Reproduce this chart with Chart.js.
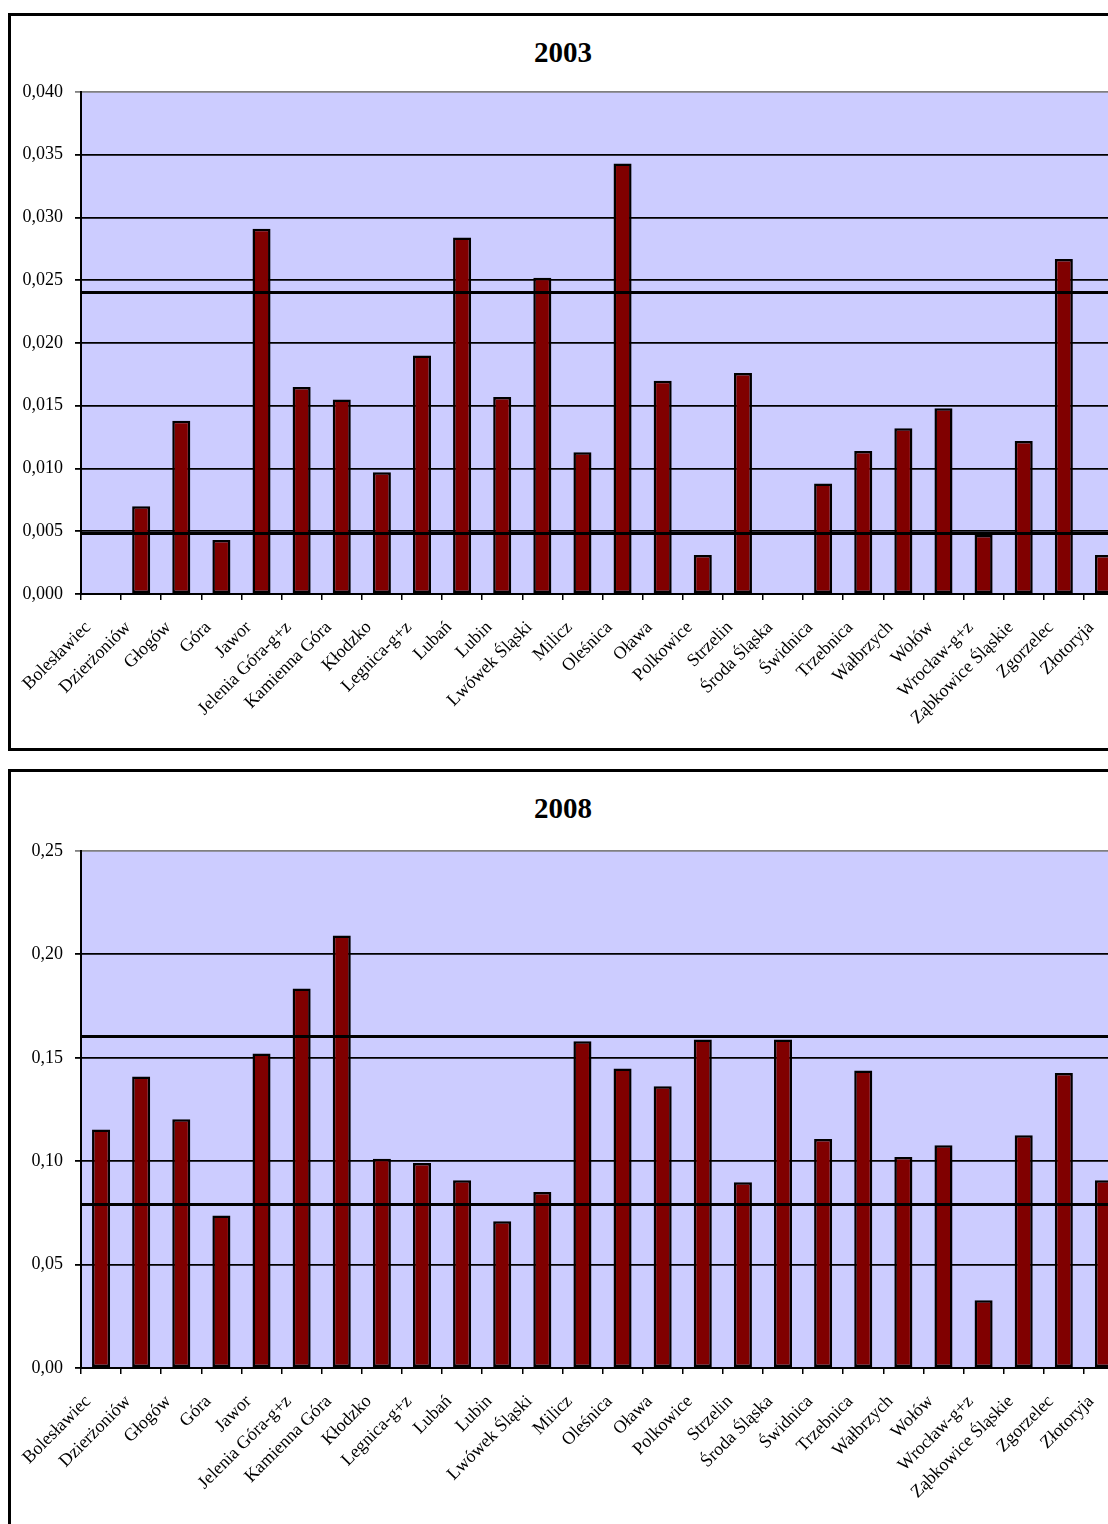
<!DOCTYPE html>
<html lang="pl">
<head>
<meta charset="utf-8">
<script src="https://cdn.jsdelivr.net/npm/chart.js@4.4.1/dist/chart.umd.min.js"></script>
<style>
  body { margin: 0; width: 1108px; height: 1524px; overflow: hidden; position: relative; background: #fff; font-family: "Liberation Serif", serif; }
  .box { position: absolute; left: 8px; width: 1160px; border: 3px solid #000; box-sizing: border-box; }
  .ttl { position: absolute; left: 463px; width: 200px; text-align: center; font-weight: bold; font-size: 29px; line-height: 30px; }
  canvas { position: absolute; }
</style>
</head>
<body>
<div class="box" style="top:13px;height:738px"></div>
<div class="ttl" style="top:37px">2003</div>
<canvas id="chart2003" width="1140" height="730" style="left:12px;top:16px"></canvas>

<div class="box" style="top:769px;height:800px"></div>
<div class="ttl" style="top:793px">2008</div>
<canvas id="chart2008" width="1140" height="760" style="left:12px;top:772px"></canvas>

<script>
// districts (powiaty) of Lower Silesia
const districts = [
    'Bolesławiec', 'Dzierżoniów', 'Głogów', 'Góra', 'Jawor', 'Jelenia Góra-g+z',
    'Kamienna Góra', 'Kłodzko', 'Legnica-g+z', 'Lubań', 'Lubin', 'Lwówek Śląski',
    'Milicz', 'Oleśnica', 'Oława', 'Polkowice', 'Strzelin', 'Środa Śląska',
    'Świdnica', 'Trzebnica', 'Wałbrzych', 'Wołów', 'Wrocław-g+z',
    'Ząbkowice Śląskie', 'Zgorzelec', 'Złotoryja'
];

// values
const values2003 = [
    null, 0.0070, 0.0138, 0.0043, 0.0291, 0.0165, 0.0155, 0.0097, 0.0190, 0.0284,
    0.0157, 0.0252, 0.0113, 0.0343, 0.0170, 0.0031, 0.0176, null, 0.0088, 0.0114,
    0.0132, 0.0148, 0.0047, 0.0122, 0.0267, 0.0031
];
const values2008 = [
    0.1153, 0.1410, 0.1203, 0.0737, 0.1521, 0.1835, 0.2091, 0.1012, 0.0991, 0.0908,
    0.0710, 0.0851, 0.1580, 0.1448, 0.1363, 0.1588, 0.0898, 0.1588, 0.1107, 0.1438,
    0.1020, 0.1077, 0.0328, 0.1125, 0.1426, 0.0908
];

// the two thick horizontal lines in each chart
const refLines2003 = [0.0241, 0.0049];
const refLines2008 = [0.1603, 0.0791];

// y axis ticks
const yTicks2003 = { max: 0.040, step: 0.005, decimals: 3 };
const yTicks2008 = { max: 0.25, step: 0.05, decimals: 2 };

// plot background + thick reference lines
const plotDecor = {
    id: 'plotDecor',
    beforeDraw(chart) {
        const { ctx, chartArea: a } = chart;
        ctx.save();
        ctx.fillStyle = '#CCCCFF';
        ctx.fillRect(a.left, a.top, a.right - a.left, a.bottom - a.top);
        ctx.restore();
    },
    afterDatasetsDraw(chart, args, opts) {
        const { ctx, chartArea: a, scales } = chart;
        ctx.save();
        ctx.strokeStyle = '#000';
        ctx.lineWidth = 3;
        (opts.lines || []).forEach(v => {
            const y = Math.round(scales.y.getPixelForValue(v)) + 0.5;
            ctx.beginPath();
            ctx.moveTo(a.left, y);
            ctx.lineTo(a.right, y);
            ctx.stroke();
        });
        ctx.restore();
    }
};

const serif = '"Liberation Serif", "Times New Roman", serif';

function makeChart(id, values, lines, yt, padTop, xAxisHeight) {
    return new Chart(document.getElementById(id), {
        type: 'bar',
        data: {
            labels: districts,
            datasets: [{
                data: values,
                backgroundColor: '#800000',
                borderColor: '#000',
                borderWidth: 2.5,
                borderSkipped: false,
                categoryPercentage: 0.9,
                barPercentage: 0.5
            }]
        },
        options: {
            responsive: false,
            animation: false,
            layout: { padding: { top: padTop, right: 28, left: 0, bottom: 0 } },
            plugins: {
                legend: { display: false },
                tooltip: { enabled: false },
                plotDecor: { lines: lines }
            },
            scales: {
                x: {
                    afterFit: s => { s.height = xAxisHeight; },
                    border: { display: true, color: '#000', width: 2 },
                    grid: { drawOnChartArea: false, drawTicks: true, tickLength: 6, color: '#000', lineWidth: 1.5, offset: true },
                    ticks: {
                        autoSkip: false, minRotation: 45, maxRotation: 45,
                        padding: 17, labelOffset: -13,
                        color: '#000', font: { family: serif, size: 18 }
                    }
                },
                y: {
                    min: 0, max: yt.max,
                    afterFit: s => { s.width = 69; },
                    border: { display: true, color: '#000', width: 2 },
                    grid: {
                        drawTicks: true, tickLength: 6, lineWidth: 1.8,
                        color: c => (c.tick && Math.abs(c.tick.value - yt.max) < 1e-9) ? '#808080' : '#000'
                    },
                    ticks: {
                        stepSize: yt.step, padding: 12,
                        color: '#000', font: { family: serif, size: 18 },
                        callback: v => v.toFixed(yt.decimals).replace('.', ',')
                    }
                }
            }
        },
        plugins: [plotDecor]
    });
}

makeChart('chart2003', values2003, refLines2003, yTicks2003, 76, 152);
makeChart('chart2008', values2008, refLines2008, yTicks2008, 79, 164);
</script>
</body>
</html>
